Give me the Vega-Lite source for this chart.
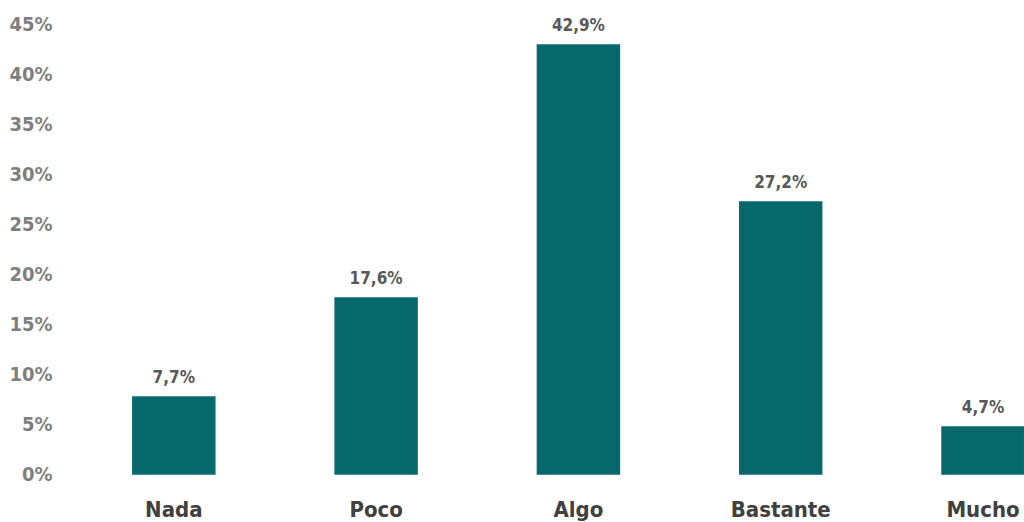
{
  "$schema": "https://vega.github.io/schema/vega-lite/v6.json",
  "autosize": "none",
  "width": 964,
  "height": 450,
  "padding": {"left": 60, "top": 24, "right": 0, "bottom": 48},
  "background": "#ffffff",
  "config": {
    "view": {"stroke": null},
    "locale": {"number": {"decimal": ",", "thousands": ".", "grouping": [3], "currency": ["", " €"]}}
  },
  "data": {
    "values": [
      {"categoria": "Nada", "valor": 0.077},
      {"categoria": "Poco", "valor": 0.176},
      {"categoria": "Algo", "valor": 0.429},
      {"categoria": "Bastante", "valor": 0.272},
      {"categoria": "Mucho", "valor": 0.047}
    ]
  },
  "encoding": {
    "x": {
      "field": "categoria",
      "type": "nominal",
      "sort": null,
      "scale": {"paddingInner": 0.5947, "paddingOuter": 0.18, "align": 1},
      "axis": {
        "title": null,
        "labelAngle": 0,
        "domain": false,
        "ticks": false,
        "labelFont": "DejaVu Sans Condensed",
        "labelFontWeight": "bold",
        "labelFontSize": 22,
        "labelColor": "#404040",
        "labelBaseline": "alphabetic",
        "labelPadding": 42
      }
    },
    "y": {
      "field": "valor",
      "type": "quantitative",
      "scale": {"domain": [0, 0.45], "nice": false},
      "axis": {
        "title": null,
        "format": ".0%",
        "values": [0, 0.05, 0.1, 0.15, 0.2, 0.25, 0.3, 0.35, 0.4, 0.45],
        "domain": false,
        "ticks": false,
        "grid": false,
        "labelFont": "DejaVu Sans Condensed",
        "labelFontWeight": "bold",
        "labelFontSize": 20,
        "labelColor": "#7F7F7F",
        "labelPadding": 8
      }
    }
  },
  "layer": [
    {
      "mark": {"type": "bar", "fill": "#07686B", "stroke": "#0B6A78", "strokeWidth": 1.5}
    },
    {
      "mark": {
        "type": "text",
        "baseline": "alphabetic",
        "dy": -14,
        "font": "DejaVu Sans Condensed",
        "fontWeight": "bold",
        "fontSize": 17,
        "color": "#595959"
      },
      "encoding": {
        "text": {"field": "valor", "type": "quantitative", "format": ".1%"}
      }
    }
  ]
}
